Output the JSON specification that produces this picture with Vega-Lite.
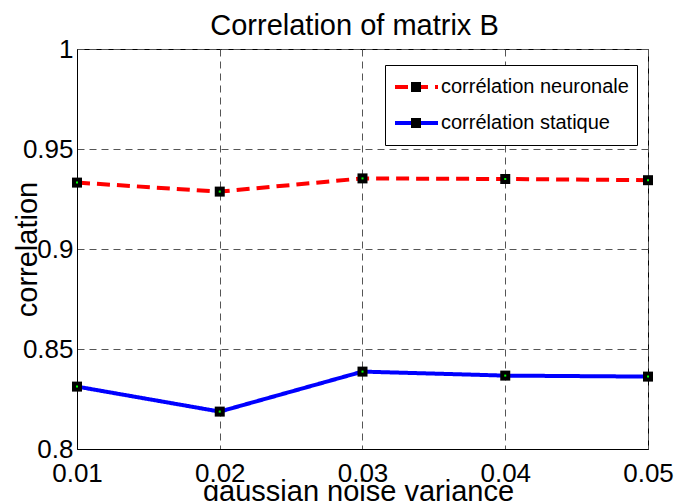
{
  "$schema": "https://vega.github.io/schema/vega-lite/v6.json",
  "width": 571,
  "height": 400,
  "autosize": {"type": "none"},
  "padding": {"left": 77, "top": 49, "right": 30, "bottom": 52},
  "background": "white",
  "title": {"text": "Correlation of matrix B", "font": "Liberation Sans", "fontSize": 29, "fontWeight": "normal", "color": "black", "anchor": "middle", "frame": "group", "offset": 0, "dy": 5, "dx": -8},
  "data": {"values": [
    {"series": "corrélation neuronale", "variance": 0.01, "correlation": 0.9332},
    {"series": "corrélation neuronale", "variance": 0.02, "correlation": 0.9287},
    {"series": "corrélation neuronale", "variance": 0.03, "correlation": 0.9353},
    {"series": "corrélation neuronale", "variance": 0.04, "correlation": 0.935},
    {"series": "corrélation neuronale", "variance": 0.05, "correlation": 0.9344},
    {"series": "corrélation statique", "variance": 0.01, "correlation": 0.8312},
    {"series": "corrélation statique", "variance": 0.02, "correlation": 0.8187},
    {"series": "corrélation statique", "variance": 0.03, "correlation": 0.8387},
    {"series": "corrélation statique", "variance": 0.04, "correlation": 0.8367},
    {"series": "corrélation statique", "variance": 0.05, "correlation": 0.8362}
  ]},
  "encoding": {
    "x": {"field": "variance", "type": "quantitative",
      "scale": {"domain": [0.01, 0.05], "nice": false, "zero": false},
      "axis": {"values": [0.01, 0.02, 0.03, 0.04, 0.05], "format": "~g", "title": "gaussian noise variance",
        "titleX": 281, "titleY": 51, "titleBaseline": "alphabetic", "titleAlign": "center",
        "labelPadding": 11, "labelBaseline": "top", "labelFlush": false, "labelOverlap": false}},
    "y": {"field": "correlation", "type": "quantitative",
      "scale": {"domain": [0.8, 1], "nice": false, "zero": false},
      "axis": {"values": [0.8, 0.85, 0.9, 0.95, 1], "format": "~g", "title": "correlation",
        "titleX": -41, "titleY": 200, "titleAngle": -90, "titleBaseline": "alphabetic", "titleAlign": "center",
        "labelPadding": 4, "labelFlush": false, "labelOverlap": false}}
  },
  "layer": [
    {"mark": {"type": "line", "strokeWidth": 4, "clip": false},
     "encoding": {
       "color": {"field": "series", "type": "nominal", "scale": {"domain": ["corrélation neuronale", "corrélation statique"], "range": ["#ff0000", "#0000ff"]},
         "legend": {"title": null, "orient": "none", "legendX": 308, "legendY": 16, "clipHeight": 28, "rowPadding": 8, "padding": 8, "labelOffset": 1,
           "symbolType": "stroke", "symbolSize": 1849, "symbolStrokeWidth": 4, "strokeColor": "black", "fillColor": "white"}},
       "strokeDash": {"field": "series", "type": "nominal", "scale": {"domain": ["corrélation neuronale", "corrélation statique"], "range": [[13, 7], [1, 0]]},
         "legend": {"title": null, "orient": "none", "legendX": 308, "legendY": 16, "clipHeight": 28, "rowPadding": 8, "padding": 8, "labelOffset": 1,
           "symbolType": "stroke", "symbolSize": 1849, "symbolStrokeWidth": 4, "strokeColor": "black", "fillColor": "white"}}
     }},
    {"mark": {"type": "point", "filled": true, "color": "black", "size": 100, "opacity": 1, "clip": false},
     "encoding": {
       "shape": {"field": "series", "type": "nominal", "scale": {"domain": ["corrélation statique", "corrélation neuronale"], "range": ["square", "square"]},
         "legend": {"title": null, "orient": "none", "legendX": 326, "legendY": 16, "clipHeight": 28, "rowPadding": 8, "padding": 8,
           "labelExpr": "''", "labelFontSize": 1, "symbolSize": 100, "symbolFillColor": "black", "symbolStrokeWidth": 0, "symbolOpacity": 1,
           "strokeColor": "transparent", "fillColor": "transparent"}}
     }},
    {"mark": {"type": "point", "shape": "square", "filled": true, "color": "#00ff00", "size": 4, "opacity": 1, "clip": false}}
  ],
  "config": {
    "font": "Liberation Sans",
    "view": {"stroke": "black", "strokeWidth": 1},
    "axis": {
      "domain": true, "domainColor": "black", "domainWidth": 1,
      "ticks": false,
      "grid": true, "gridColor": "#555555", "gridDash": [7, 5], "gridWidth": 1, "gridOpacity": 1,
      "labelFont": "Liberation Sans", "labelFontSize": 26, "labelColor": "black",
      "titleFont": "Liberation Sans", "titleFontSize": 29, "titleFontWeight": "normal", "titleColor": "black"
    },
    "legend": {
      "strokeWidth": 1,
      "labelFont": "Liberation Sans", "labelFontSize": 20, "labelColor": "black",
      "labelLimit": 400
    }
  }
}
